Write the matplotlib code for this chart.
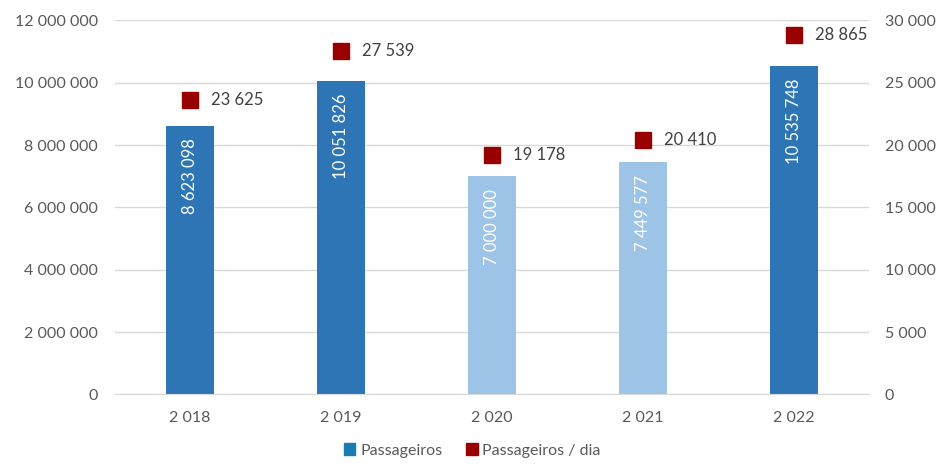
import matplotlib.pyplot as plt
from matplotlib.lines import Line2D
from matplotlib.patches import Patch

plt.rcParams['font.family'] = ['Lato', 'DejaVu Sans']

anos = ['2 018', '2 019', '2 020', '2 021', '2 022']
passageiros = [8623098, 10051826, 7000000, 7449577, 10535748]
por_dia = [23625, 27539, 19178, 20410, 28865]

def fmt(v):
    return f"{v:,}".replace(",", " ")

escuro = '#2E75B6'
claro = '#9DC3E6'
cores = [escuro, escuro, claro, claro, escuro]
vermelho = '#990000'
cinza = '#595959'

fig = plt.figure(figsize=(9.45, 4.72), dpi=100)
ax = fig.add_axes([0.1212, 0.1646, 0.7989, 0.7920])
x = list(range(len(anos)))

ax.bar(x, passageiros, width=0.32, color=cores, zorder=2)
for i, v in enumerate(passageiros):
    ax.annotate(fmt(v), (i, v), xytext=(0, -9), textcoords='offset points',
                rotation=90, ha='center', va='top', color='white', fontsize=12, zorder=3)

ax.set_ylim(0, 12000000)
ax.set_yticks(range(0, 12000001, 2000000))
ax.set_yticklabels([fmt(t) for t in range(0, 12000001, 2000000)])
ax.set_xlim(-0.5, 4.5)
ax.set_xticks(x)
ax.set_xticklabels(anos)
ax.grid(axis='y', color='#D9D9D9', linewidth=1, zorder=0)
ax.set_axisbelow(True)
for s in ax.spines.values():
    s.set_visible(False)
ax.spines['bottom'].set_visible(True)
ax.spines['bottom'].set_color('#D9D9D9')
ax.tick_params(axis='both', length=0, colors=cinza, labelsize=11.5)
ax.tick_params(axis='y', pad=12)
ax.tick_params(axis='x', pad=12)

ax2 = ax.twinx()
ax2.plot(x, por_dia, linestyle='none', marker='s', markersize=11.5, color=vermelho, zorder=4)
for i, v in enumerate(por_dia):
    ax2.annotate(fmt(v), (i, v), xytext=(15, 0), textcoords='offset points',
                 ha='left', va='center', color='#404040', fontsize=12)
ax2.set_ylim(0, 30000)
ax2.set_yticks(range(0, 30001, 5000))
ax2.set_yticklabels([fmt(t) for t in range(0, 30001, 5000)])
for s in ax2.spines.values():
    s.set_visible(False)
ax2.tick_params(axis='y', length=0, colors=cinza, labelsize=11.5, pad=11)

handles = [Patch(color='#1C7BB0', label='Passageiros'),
           Patch(color=vermelho, label='Passageiros / dia')]
fig.legend(handles=handles, loc='lower center', bbox_to_anchor=(0.5, 0.0), ncol=2,
           frameon=False, fontsize=11.5, handlelength=0.7, handleheight=0.7,
           handletextpad=0.3, columnspacing=1.5, labelcolor=cinza)

fig.savefig('out.png', dpi=100)
